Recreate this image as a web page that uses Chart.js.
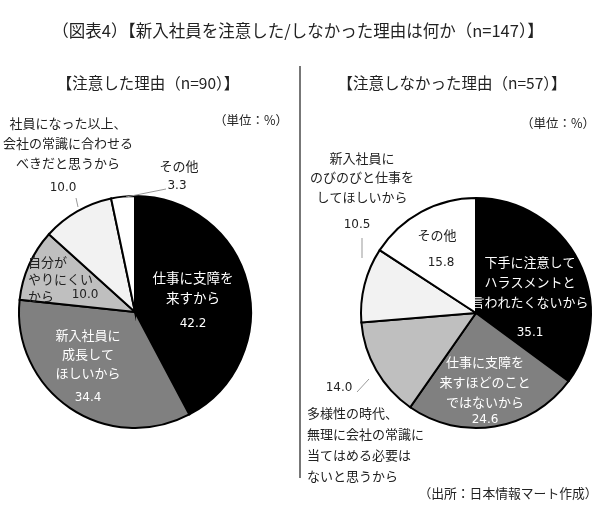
<!DOCTYPE html>
<html>
<head>
<meta charset="utf-8">
<script src="https://cdn.jsdelivr.net/npm/chart.js@4.4.1/dist/chart.umd.min.js"></script>
<style>
  body { margin: 0; background: #fff; }
  #wrap { position: relative; width: 600px; height: 509px; font-family: 'Noto Sans CJK JP', sans-serif; color: #222; }
  #wrap canvas { position: absolute; top: 0; }
  .txt { position: absolute; white-space: nowrap; transform: translate(-50%, -50%); line-height: 1; }
  .divider { position: absolute; left: 299px; top: 66px; width: 1.5px; height: 412px; background: #777; }
</style>
</head>
<body>
<div id="wrap">
  <canvas id="left" width="300" height="509" style="left:0"></canvas>
  <canvas id="right" width="300" height="509" style="left:300px"></canvas>
  <div class="divider"></div>
  <div class="txt" style="left:298px;top:30px;font-size:16.5px">（図表4）【新入社員を注意した/しなかった理由は何か（n=147）】</div>
  <div class="txt" style="left:148px;top:83px;font-size:15.5px">【注意した理由（n=90）】</div>
  <div class="txt" style="left:452px;top:83px;font-size:15.5px">【注意しなかった理由（n=57）】</div>
  <div class="txt" style="left:251px;top:120px;font-size:12.5px">（単位：%）</div>
  <div class="txt" style="left:558px;top:123px;font-size:12.5px">（単位：%）</div>
  <div class="txt" style="left:508px;top:493px;font-size:12.8px">（出所：日本情報マート作成）</div>
</div>
<script>
// 注意した理由 (n=90)
const leftCategories = [
  '仕事に支障を\n来すから',
  '新入社員に\n成長して\nほしいから',
  '自分が\nやりにくい\nから',
  '社員になった以上、\n会社の常識に合わせる\nべきだと思うから',
  'その他',
];
const leftValues = [42.2, 34.4, 10.0, 10.0, 3.3];

// 注意しなかった理由 (n=57)
const rightCategories = [
  '下手に注意して\nハラスメントと\n言われたくないから',
  '仕事に支障を\n来すほどのこと\nではないから',
  '多様性の時代、\n無理に会社の常識に\n当てはめる必要は\nないと思うから',
  '新入社員に\nのびのびと仕事を\nしてほしいから',
  'その他',
];
const rightValues = [35.1, 24.6, 14.0, 10.5, 15.8];

const sliceColors = ['#000000', '#808080', '#bfbfbf', '#f2f2f2', '#ffffff'];
const FONT = "'Noto Sans CJK JP', sans-serif";

// label placement, offsets from the pie centre
const leftPlacement = [
  { name: [58, -34], lh: 20, value: [58, 12], color: '#fff', size: 13.5 },
  { name: [-47, 23], lh: 19, value: [-47, 86], color: '#fff' },
  { name: [-107, -50], lh: 17, value: [-50, -17], color: '#222', align: 'left' },
  { name: [-67, -189], lh: 20, value: [-72, -124], color: '#222', leader: [[-59, -114], [-57, -105]] },
  { name: [44, -146], lh: 20, value: [42, -126], color: '#222', leader: [[31, -123], [-9, -115]] },
];
const rightPlacement = [
  { name: [54, -51], lh: 20, value: [54, 20], color: '#fff' },
  { name: [9, 49], lh: 20, value: [9, 107], color: '#fff' },
  { name: [-169, 100], lh: 21, value: [-137, 75], color: '#222', align: 'left', leader: [[-119, 79], [-107, 66]] },
  { name: [-114, -155], lh: 19.5, value: [-119, -88], color: '#222', leader: [[-114, -75], [-114, -55]] },
  { name: [-39, -78], lh: 20, value: [-35, -50], color: '#222' },
];

const sliceLabels = {
  id: 'sliceLabels',
  afterDatasetsDraw(chart, args, opts) {
    const c = chart.ctx;
    const arcs = chart.getDatasetMeta(0).data;
    const values = chart.data.datasets[0].data;
    const cats = chart.data.labels;
    c.save();
    c.textBaseline = 'middle';
    arcs.forEach((arc, i) => {
      const p = opts.placement[i];
      const cx = arc.x, cy = arc.y;
      if (p.leader) {
        c.strokeStyle = '#999';
        c.lineWidth = 1;
        c.beginPath();
        c.moveTo(cx + p.leader[0][0], cy + p.leader[0][1]);
        c.lineTo(cx + p.leader[1][0], cy + p.leader[1][1]);
        c.stroke();
      }
      c.fillStyle = p.color;
      c.font = `${p.size || 13}px ${FONT}`;
      c.textAlign = p.align || 'center';
      cats[i].split('\n').forEach((line, k) => {
        c.fillText(line, cx + p.name[0], cy + p.name[1] + k * p.lh);
      });
      c.textAlign = 'center';
      c.font = "12px 'DejaVu Sans', sans-serif";
      c.fillText(values[i].toFixed(1), cx + p.value[0], cy + p.value[1]);
    });
    c.restore();
  },
};

const makePie = (id, labels, values, placement, padding) =>
  new Chart(document.getElementById(id), {
    type: 'pie',
    data: {
      labels,
      datasets: [
        {
          data: values,
          backgroundColor: sliceColors,
          borderColor: '#000',
          borderWidth: 2,
          borderJoinStyle: 'miter',
        },
      ],
    },
    options: {
      responsive: false,
      animation: false,
      layout: { padding },
      plugins: {
        legend: { display: false },
        tooltip: { enabled: false },
        sliceLabels: { placement },
      },
    },
    plugins: [sliceLabels],
  });

makePie('left', leftCategories, leftValues, leftPlacement, { left: 18, right: 48, top: 195, bottom: 80 });
makePie('right', rightCategories, rightValues, rightPlacement, { left: 60, right: 8, top: 197, bottom: 80 });
</script>
</body>
</html>
